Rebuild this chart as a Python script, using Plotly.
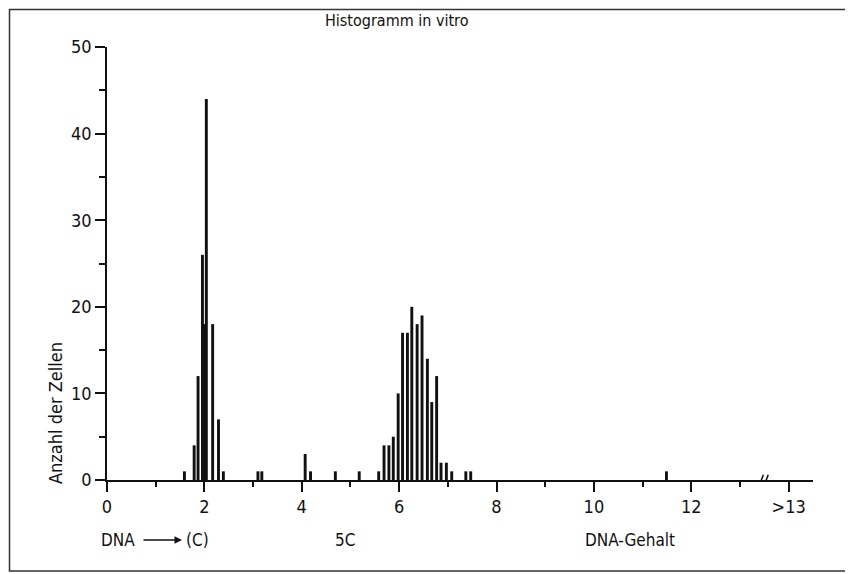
import plotly.graph_objects as go

# DNA content (C) of each histogram bar and number of cells
dna = [1.59, 1.79, 1.87, 1.96, 1.99, 2.04, 2.17, 2.29, 2.39,
       3.10, 3.18, 4.07, 4.18, 4.69, 5.18, 5.58, 5.69, 5.79, 5.88,
       5.98, 6.07, 6.17, 6.26, 6.37, 6.47, 6.58, 6.67, 6.77, 6.86,
       6.97, 7.08, 7.37, 7.47, 11.49]
counts = [1, 4, 12, 26, 18, 44, 18, 7, 1,
          1, 1, 3, 1, 1, 1, 1, 4, 4, 5,
          10, 17, 17, 20, 18, 19, 14, 9, 12, 2,
          2, 1, 1, 1, 1]

x_tickvals = [0, 2, 4, 6, 8, 10, 12, 14]
x_ticktext = ["0", "2", "4", "6", "8", "10", "12", ">13"]
x_minor = [1, 3, 5, 7, 9, 11, 13]
y_tickvals = [0, 10, 20, 30, 40, 50]
y_ticktext = ["0", "10", "20", "30", "40", "50"]

FONT = "DejaVu Sans Condensed, Liberation Sans Narrow, DejaVu Sans, sans-serif"
INK = "#111111"

fig = go.Figure()
fig.add_trace(go.Bar(x=dna, y=counts, width=0.06,
                     marker=dict(color=INK, line=dict(width=0)),
                     showlegend=False))

# page has an 8px body margin; work in page pixel coordinates
OFF = 8
W, H = 853 - OFF, 574 - OFF
L, R, T, B = 107 - OFF, 40, 47 - OFF, 94
pw, ph = W - L - R, H - T - B

def px(xp):
    return (xp - OFF - L) / pw

def py(yp):
    return (H - B - (yp - OFF)) / ph

fig.update_layout(
    width=W, height=H,
    margin=dict(l=L, r=R, t=T, b=B),
    paper_bgcolor="white", plot_bgcolor="white",
    barmode="overlay",
    font=dict(family=FONT, color=INK, size=18),
    xaxis=dict(range=[0, 14.5], tickmode="array", tickvals=x_tickvals,
               ticktext=x_ticktext, ticks="outside", ticklen=10, tickwidth=1.5,
               tickcolor=INK, showline=True, linecolor=INK, linewidth=1.5,
               showgrid=False, zeroline=False,
               tickfont=dict(family=FONT, size=18, color=INK),
               minor=dict(tickmode="array", tickvals=x_minor, ticks="outside",
                          ticklen=5, tickwidth=1.5, tickcolor=INK, showgrid=False)),
    yaxis=dict(range=[0, 50], tickmode="array", tickvals=y_tickvals,
               ticktext=y_ticktext, ticks="outside", ticklen=10, tickwidth=1.5,
               tickcolor=INK, showline=True, linecolor=INK, linewidth=1.5,
               showgrid=False, zeroline=False,
               tickfont=dict(family=FONT, size=18, color=INK),
               minor=dict(dtick=5, ticks="outside", ticklen=6, tickwidth=1.5,
                          tickcolor=INK, showgrid=False)),
)

# axis break marks
for x0 in (13.40, 13.50):
    fig.add_shape(type="line", xref="x", yref="y", x0=x0, y0=-0.6,
                  x1=x0 + 0.08, y1=0.6, line=dict(color=INK, width=1.5))

# outer frame
fig.add_shape(type="rect", xref="paper", yref="paper",
              x0=px(9.5), x1=px(848), y0=py(9.5), y1=py(571),
              line=dict(color="#333333", width=1.5))

ann = [
    dict(text="Histogramm in vitro", x=px(397), y=py(20), size=16),
    dict(text="DNA", x=px(118), y=py(540), size=17),
    dict(text="(C)", x=px(197), y=py(540), size=17),
    dict(text="5C", x=px(345), y=py(540), size=17),
    dict(text="DNA-Gehalt", x=px(630), y=py(540), size=17),
]
for a in ann:
    fig.add_annotation(text=a["text"], x=a["x"], y=a["y"], xref="paper",
                       yref="paper", showarrow=False, xanchor="center",
                       yanchor="middle",
                       font=dict(family=FONT, size=a["size"], color=INK))

fig.add_annotation(text="Anzahl der Zellen", textangle=-90, x=px(55), y=py(413),
                   xref="paper", yref="paper", showarrow=False,
                   xanchor="center", yanchor="middle",
                   font=dict(family=FONT, size=18, color=INK))

# arrow between DNA and (C)
fig.add_annotation(text="", x=px(182), y=py(540), xref="paper", yref="paper",
                   ax=-40, ay=0, showarrow=True, arrowhead=2, arrowsize=1,
                   arrowwidth=1.5, arrowcolor=INK)

fig.write_html("out.html")
